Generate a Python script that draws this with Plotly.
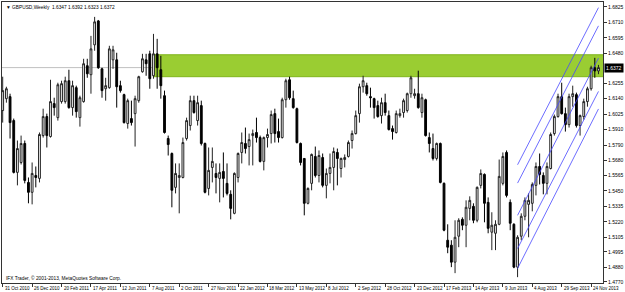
import plotly.graph_objects as go

# Weekly GBPUSD candles, week index 0 = 31 Oct 2010
open_ = [1.6051, 1.6140, 1.6155, 1.5976, 1.5589, 1.5663, 1.5805, 1.5514, 1.5440, 1.5566,
         1.5544, 1.5864, 1.6006, 1.5857, 1.6103, 1.5998, 1.6118, 1.6118, 1.6274, 1.6073,
         1.6222, 1.5998, 1.6118, 1.6386, 1.6319, 1.6542, 1.6721, 1.6363, 1.6214, 1.6222,
         1.6430, 1.6430, 1.6237, 1.6170, 1.5954, 1.5991, 1.6028, 1.6125, 1.6341, 1.6430,
         1.6475, 1.6311, 1.6475, 1.6356, 1.6162, 1.5842, 1.5730, 1.5477, 1.5551, 1.5551,
         1.5842, 1.5939, 1.6125, 1.5976, 1.6088, 1.5805, 1.5469, 1.5626, 1.5581, 1.5544,
         1.5596, 1.5507, 1.5425, 1.5283, 1.5551, 1.5738, 1.5805, 1.5782, 1.5864, 1.5887,
         1.5849, 1.5671, 1.5849, 1.5879, 1.6028, 1.5894, 1.5849, 1.6132, 1.6281, 1.6140,
         1.6065, 1.5805, 1.5693, 1.5358, 1.5507, 1.5708, 1.5566, 1.5700, 1.5492, 1.5581,
         1.5626, 1.5738, 1.5618, 1.5685, 1.5708, 1.5827, 1.5879, 1.6028, 1.6229, 1.6237,
         1.6155, 1.6140, 1.6088, 1.6013, 1.6110, 1.6013, 1.5916, 1.5887, 1.6013, 1.6036,
         1.6051, 1.6177, 1.6162, 1.6177, 1.6036, 1.6132, 1.5849, 1.5767, 1.5693, 1.5805,
         1.5507, 1.5082, 1.5045, 1.4918, 1.5112, 1.5238, 1.5194, 1.5320, 1.5335, 1.5231,
         1.5492, 1.5574, 1.5365, 1.5142, 1.5134, 1.5201, 1.5507, 1.5738, 1.5365, 1.5201,
         1.4881, 1.5112, 1.5261, 1.5350, 1.5358, 1.5492, 1.5633, 1.5566, 1.5507, 1.5618,
         1.5879, 1.6006, 1.6155, 1.6028, 1.5946, 1.6155, 1.6170, 1.5939, 1.6006, 1.6118,
         1.6214, 1.6371, 1.6347]
high_ = [1.6304, 1.6229, 1.6177, 1.5991, 1.5827, 1.5864, 1.5827, 1.5551, 1.5663, 1.5633,
         1.5887, 1.6065, 1.6028, 1.6281, 1.6147, 1.6259, 1.6274, 1.6304, 1.6356, 1.6274,
         1.6237, 1.6162, 1.6438, 1.6438, 1.6609, 1.6751, 1.6728, 1.6371, 1.6296, 1.6535,
         1.6535, 1.6483, 1.6274, 1.6177, 1.6140, 1.6125, 1.6162, 1.6311, 1.6475, 1.6475,
         1.6498, 1.6624, 1.6587, 1.6460, 1.6200, 1.5864, 1.5738, 1.5656, 1.5656, 1.5849,
         1.5998, 1.6162, 1.6162, 1.6162, 1.6125, 1.5812, 1.5775, 1.5775, 1.5656, 1.5656,
         1.5738, 1.5656, 1.5455, 1.5589, 1.5738, 1.5887, 1.5924, 1.5879, 1.5909, 1.5998,
         1.5864, 1.5857, 1.5916, 1.6051, 1.6065, 1.5991, 1.6147, 1.6289, 1.6304, 1.6200,
         1.6073, 1.5812, 1.5693, 1.5477, 1.5730, 1.5782, 1.5753, 1.5730, 1.5618, 1.5730,
         1.5775, 1.5767, 1.5700, 1.5723, 1.5827, 1.5902, 1.6051, 1.6252, 1.6311, 1.6259,
         1.6222, 1.6147, 1.6125, 1.6147, 1.6177, 1.6051, 1.5939, 1.6051, 1.6065, 1.6140,
         1.6185, 1.6311, 1.6214, 1.6349, 1.6177, 1.6140, 1.5887, 1.5879, 1.5812, 1.5812,
         1.5514, 1.5201, 1.5082, 1.5231, 1.5246, 1.5253, 1.5380, 1.5410, 1.5358, 1.5484,
         1.5611, 1.5581, 1.5402, 1.5291, 1.5231, 1.5685, 1.5738, 1.5753, 1.5387, 1.5209,
         1.5119, 1.5283, 1.5402, 1.5432, 1.5514, 1.5663, 1.5730, 1.5589, 1.5663, 1.5887,
         1.6021, 1.6177, 1.6259, 1.6073, 1.6177, 1.6237, 1.6185, 1.6021, 1.6140, 1.6229,
         1.6386, 1.6445, 1.6392]
low_ = [1.5961, 1.6110, 1.5842, 1.5581, 1.5492, 1.5648, 1.5507, 1.5358, 1.5350, 1.5477,
        1.5514, 1.5849, 1.5775, 1.5849, 1.6013, 1.5976, 1.6103, 1.6103, 1.6065, 1.6013,
        1.5998, 1.5931, 1.6110, 1.6296, 1.6177, 1.6498, 1.6363, 1.6147, 1.6125, 1.6214,
        1.6363, 1.6073, 1.6185, 1.5954, 1.5916, 1.5939, 1.5782, 1.6110, 1.6334, 1.6311,
        1.6214, 1.6289, 1.6214, 1.6140, 1.5879, 1.5715, 1.5328, 1.5432, 1.5283, 1.5544,
        1.5827, 1.5902, 1.6028, 1.5939, 1.5790, 1.5432, 1.5417, 1.5514, 1.5432, 1.5365,
        1.5402, 1.5417, 1.5238, 1.5276, 1.5514, 1.5656, 1.5730, 1.5641, 1.5641, 1.5812,
        1.5663, 1.5604, 1.5775, 1.5805, 1.5812, 1.5812, 1.5842, 1.6073, 1.6132, 1.6065,
        1.5805, 1.5641, 1.5268, 1.5350, 1.5455, 1.5551, 1.5514, 1.5477, 1.5395, 1.5507,
        1.5455, 1.5492, 1.5551, 1.5626, 1.5700, 1.5767, 1.5872, 1.5961, 1.6185, 1.6162,
        1.6073, 1.5991, 1.5998, 1.5954, 1.6013, 1.5902, 1.5834, 1.5879, 1.5998, 1.5998,
        1.6036, 1.6147, 1.6140, 1.6065, 1.5998, 1.5857, 1.5738, 1.5678, 1.5678, 1.5507,
        1.5149, 1.4985, 1.4881, 1.4836, 1.5030, 1.5157, 1.5030, 1.5231, 1.5209, 1.5216,
        1.5469, 1.5216, 1.5134, 1.5008, 1.5008, 1.5194, 1.5492, 1.5402, 1.5157, 1.4873,
        1.4806, 1.5082, 1.5231, 1.5104, 1.5298, 1.5417, 1.5499, 1.5425, 1.5425, 1.5611,
        1.5864, 1.5998, 1.6021, 1.5894, 1.5924, 1.6080, 1.5924, 1.5864, 1.5983, 1.6080,
        1.6200, 1.6296, 1.6323]
close_ = [1.6200, 1.6214, 1.5961, 1.5589, 1.5767, 1.5805, 1.5529, 1.5440, 1.5581, 1.5551,
          1.5872, 1.6006, 1.5864, 1.6118, 1.6073, 1.6244, 1.6252, 1.6274, 1.6073, 1.6237,
          1.6043, 1.6147, 1.6401, 1.6326, 1.6512, 1.6714, 1.6371, 1.6200, 1.6237, 1.6512,
          1.6505, 1.6229, 1.6200, 1.5961, 1.6125, 1.5961, 1.6140, 1.6304, 1.6438, 1.6401,
          1.6289, 1.6475, 1.6371, 1.6237, 1.5887, 1.5797, 1.5455, 1.5581, 1.5566, 1.5812,
          1.5976, 1.6125, 1.6036, 1.6110, 1.5805, 1.5440, 1.5604, 1.5671, 1.5551, 1.5589,
          1.5544, 1.5432, 1.5320, 1.5581, 1.5730, 1.5812, 1.5767, 1.5834, 1.5879, 1.5849,
          1.5671, 1.5849, 1.5872, 1.6021, 1.5879, 1.5849, 1.6132, 1.6274, 1.6147, 1.6073,
          1.5812, 1.5663, 1.5358, 1.5469, 1.5723, 1.5566, 1.5715, 1.5492, 1.5581, 1.5626,
          1.5745, 1.5693, 1.5693, 1.5700, 1.5812, 1.5879, 1.6013, 1.6229, 1.6274, 1.6177,
          1.6147, 1.6073, 1.6006, 1.6110, 1.6036, 1.5909, 1.5894, 1.6028, 1.6028, 1.6125,
          1.6177, 1.6296, 1.6177, 1.6073, 1.6147, 1.5864, 1.5805, 1.5693, 1.5805, 1.5514,
          1.5157, 1.5030, 1.4918, 1.5104, 1.5231, 1.5194, 1.5328, 1.5380, 1.5231, 1.5477,
          1.5581, 1.5358, 1.5171, 1.5194, 1.5201, 1.5559, 1.5708, 1.5417, 1.5209, 1.4881,
          1.5104, 1.5261, 1.5380, 1.5380, 1.5499, 1.5633, 1.5574, 1.5507, 1.5633, 1.5872,
          1.6006, 1.6155, 1.6028, 1.5946, 1.6155, 1.6177, 1.5939, 1.6013, 1.6118, 1.6214,
          1.6371, 1.6347, 1.6372]
week_index = list(range(len(open_)))

date_label_pos = [0, 8, 16, 24, 32, 40, 48, 56, 64, 72, 80, 88, 96, 104, 112, 120, 128, 136, 144, 152, 160]
date_labels = ["31 Oct 2010", "26 Dec 2010", "20 Feb 2011", "17 Apr 2011", "12 Jun 2011",
               "7 Aug 2011", "2 Oct 2011", "27 Nov 2011", "22 Jan 2012", "18 Mar 2012",
               "13 May 2012", "8 Jul 2012", "2 Sep 2012", "28 Oct 2012", "23 Dec 2012",
               "17 Feb 2013", "14 Apr 2013", "9 Jun 2013", "4 Aug 2013", "29 Sep 2013",
               "24 Nov 2013"]

price_ticks = [1.6825, 1.6710, 1.6595, 1.6480, 1.6255, 1.6140, 1.6025, 1.5910, 1.5790,
               1.5680, 1.5565, 1.5450, 1.5335, 1.5220, 1.5105, 1.4995, 1.4880, 1.4770]
price_tick_labels = ["1.6825", "1.6710", "1.6595", "1.6480", "1.6255", "1.6140", "1.6025",
                     "1.5910", "1.5790", "1.5680", "1.5565", "1.5450", "1.5335", "1.5220",
                     "1.5105", "1.4995", "1.4880", "1.4770"]

zone_start = 41
zone_top = 1.6468
zone_bottom = 1.6304
bid_price = 1.6372

channel_x = [140, 162]
channel_lines = {
    "upper_outer": [1.5646, 1.6820],
    "upper_inner": [1.5509, 1.6684],
    "middle": [1.5268, 1.6443],
    "lower_inner": [1.5020, 1.6194],
    "lower_outer": [1.4871, 1.6063],
}

title_text = "▼ GBPUSD,Weekly  1.6347 1.6392 1.6323 1.6372"
copyright_text = "IFX Trader, © 2001-2013, MetaQuotes Software Corp."

X_RANGE = [-0.19, 163.23]
Y_RANGE = [1.47624, 1.68622]
FONT = "Liberation Sans, Arial, sans-serif"

fig = go.Figure()
fig.add_trace(go.Candlestick(
    x=week_index, open=open_, high=high_, low=low_, close=close_,
    increasing=dict(line=dict(color="#222222", width=1), fillcolor="white"),
    decreasing=dict(line=dict(color="#000000", width=1), fillcolor="black"),
    whiskerwidth=0, hoverinfo="skip", showlegend=False,
))

for name, vals in channel_lines.items():
    fig.add_trace(go.Scatter(x=channel_x, y=vals, mode="lines",
                             line=dict(color="#4848ff", width=0.8),
                             hoverinfo="skip", showlegend=False))

fig.add_shape(type="rect", xref="x", yref="y", x0=zone_start, x1=X_RANGE[1] + 5,
              y0=zone_bottom, y1=zone_top, fillcolor="#9acd32",
              line=dict(color="#7fb51c", width=1), layer="below")
fig.add_shape(type="line", xref="paper", yref="y", x0=0, x1=1, y0=bid_price, y1=bid_price,
              line=dict(color="#c0c0c0", width=1), layer="below")

fig.update_layout(
    width=625, height=292,
    margin=dict(l=1, r=21, t=1, b=9),
    paper_bgcolor="white", plot_bgcolor="white",
    showlegend=False,
    font=dict(family=FONT, size=5, color="black"),
    boxgap=0.3,
)
fig.update_xaxes(
    range=X_RANGE, rangeslider_visible=False, showgrid=False, zeroline=False,
    showline=True, linecolor="#333333", linewidth=1, mirror=True,
    tickmode="array", tickvals=date_label_pos, ticktext=[""] * len(date_label_pos),
    ticks="outside", ticklen=3, tickcolor="#333333", tickwidth=1,
)
fig.update_yaxes(
    range=Y_RANGE, side="right", showgrid=False, zeroline=False,
    showline=True, linecolor="#333333", linewidth=1, mirror=True,
    tickmode="array", tickvals=price_ticks, ticktext=price_tick_labels,
    ticks="outside", ticklen=3, tickcolor="#333333", tickwidth=1,
    tickfont=dict(family=FONT, size=5, color="black"),
)

annotations = []
for pos, lab in zip(date_label_pos, date_labels):
    annotations.append(dict(x=pos, xref="x", y=0, yref="paper", text=lab,
                            xanchor="left", yanchor="top", yshift=-1, showarrow=False,
                            font=dict(family=FONT, size=4.5, color="black")))
annotations.append(dict(x=0, xref="paper", y=1, yref="paper", text=title_text,
                        xanchor="left", yanchor="top", xshift=2, yshift=-1, showarrow=False,
                        font=dict(family=FONT, size=4.8, color="black")))
annotations.append(dict(x=0, xref="paper", y=0, yref="paper", text=copyright_text,
                        xanchor="left", yanchor="bottom", xshift=2, yshift=0, showarrow=False,
                        font=dict(family=FONT, size=4.8, color="black")))
annotations.append(dict(x=1, xref="paper", y=bid_price, yref="y", text="1.6372",
                        xanchor="left", yanchor="middle", xshift=1, showarrow=False,
                        bgcolor="black", borderpad=1,
                        font=dict(family=FONT, size=5, color="white")))
fig.update_layout(annotations=annotations)

fig.write_html("out.html")
